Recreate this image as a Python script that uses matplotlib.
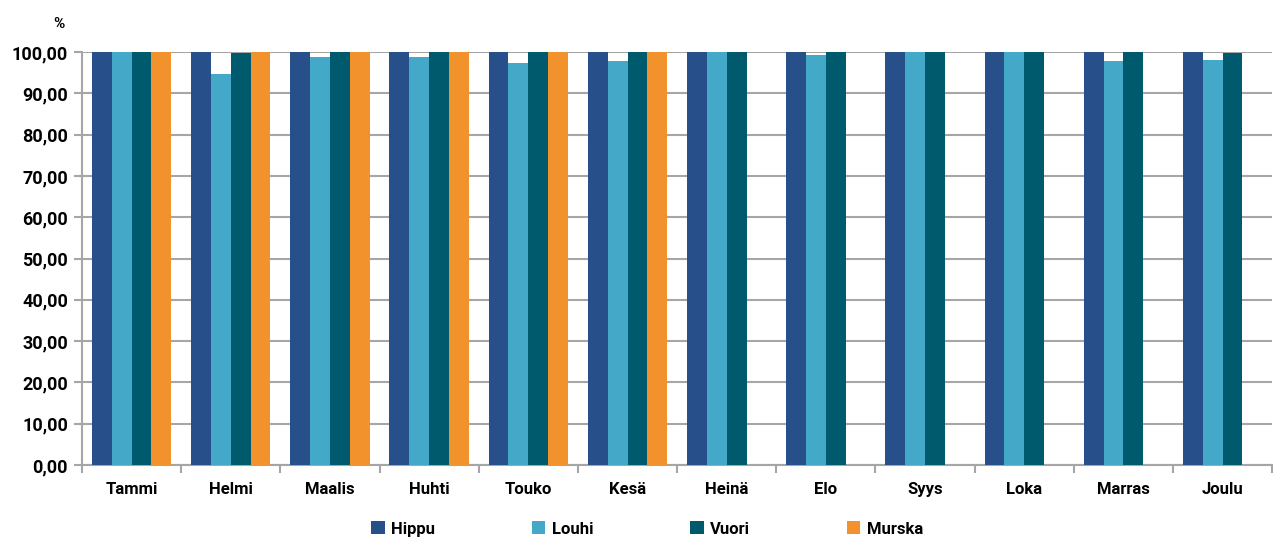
import numpy as np
import matplotlib.pyplot as plt
from matplotlib.ticker import FuncFormatter, MultipleLocator

months = ["Tammi", "Helmi", "Maalis", "Huhti", "Touko", "Kesä",
          "Heinä", "Elo", "Syys", "Loka", "Marras", "Joulu"]

hippu = [100.0, 100.0, 100.0, 100.0, 100.0, 100.0, 100.0, 100.0, 100.0, 100.0, 100.0, 100.0]
louhi = [100.0, 94.7, 98.9, 98.9, 97.4, 97.9, 100.0, 99.4, 100.0, 100.0, 97.8, 98.0]
vuori = [100.0, 99.8, 100.0, 100.0, 100.0, 100.0, 100.0, 100.0, 100.0, 100.0, 100.0, 99.8]
# Murska only has data for the first half of the year
murska = [100.0, 100.0, 100.0, 100.0, 100.0, 100.0, np.nan, np.nan, np.nan, np.nan, np.nan, np.nan]

series = [("Hippu", hippu, "#27508a"),
          ("Louhi", louhi, "#44a8c8"),
          ("Vuori", vuori, "#005a6e"),
          ("Murska", murska, "#f2922c")]

plt.rcParams["font.family"] = ["Roboto", "DejaVu Sans"]
plt.rcParams["font.weight"] = "bold"

fig = plt.figure(figsize=(12.73, 5.37), dpi=100)
ax = fig.add_axes([0.0644, 0.134, 0.935, 0.769])

x = np.arange(len(months))
w = 0.2
for i, (name, vals, col) in enumerate(series):
    ax.bar(x + (i - 1.5) * w, vals, width=w, color=col, label=name, zorder=3)

ax.set_xlim(-0.5, len(months) - 0.5)
ax.set_ylim(0, 100)
ax.yaxis.set_major_locator(MultipleLocator(10))
ax.yaxis.set_major_formatter(FuncFormatter(lambda v, p: f"{v:.2f}".replace(".", ",")))
ax.grid(axis="y", color="#a6a6a6", linewidth=1.5, zorder=0)

ax.set_xticks(x)
ax.set_xticklabels(months)
ax.set_xticks(np.arange(len(months) + 1) - 0.5, minor=True)
ax.tick_params(axis="x", which="major", length=0, pad=12, labelsize=12)
ax.tick_params(axis="x", which="minor", length=6, color="#a6a6a6", width=1.5)
ax.tick_params(axis="y", length=6, color="#a6a6a6", width=1.5, labelsize=13, pad=4)

for s in ["top", "right"]:
    ax.spines[s].set_visible(False)
for s in ["left", "bottom"]:
    ax.spines[s].set_color("#a6a6a6")
    ax.spines[s].set_linewidth(1.5)

fig.text(0.046, 0.955, "%", fontsize=11, ha="center", va="center", weight="bold")

ax.legend(loc="center", bbox_to_anchor=(0.475, -0.155), ncol=4, frameon=False,
          fontsize=12, handlelength=0.8, handleheight=0.8, handletextpad=0.4,
          columnspacing=5.8)

fig.savefig("out.png", dpi=100)
